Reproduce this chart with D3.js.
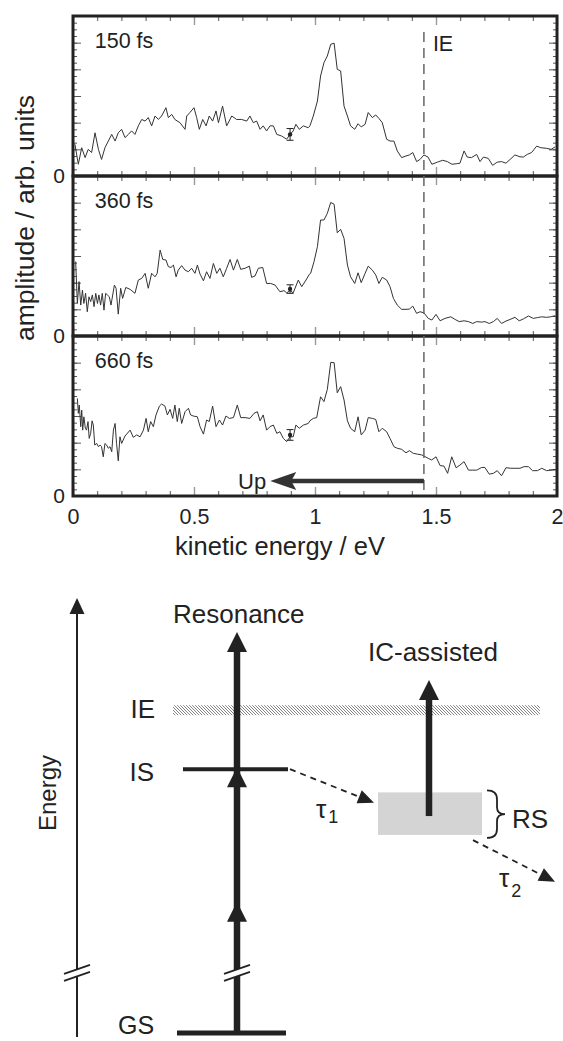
<!DOCTYPE html>
<html><head><meta charset="utf-8">
<script src="https://cdn.jsdelivr.net/npm/d3@7"></script>
<style>body{margin:0;background:#fff}svg{display:block;font-family:"Liberation Sans",Arial,Helvetica,sans-serif}</style>
</head><body><svg id="c" width="563" height="1041"></svg>
<script>
// ---------- DATA ----------
const panelLabels = ["150 fs", "360 fs", "660 fs"];
const xTicks = [0, 0.5, 1, 1.5, 2];
const xTickLabels = ["0", "0.5", "1", "1.5", "2"];
const xMinorTicks = d3.range(0, 2.001, 0.1);
const yMajorTicks = [0, 1, 2, 3, 4, 5, 6];
const yMinorTicks = d3.range(0, 6.001, 0.25);
const ieEnergy = 1.45;
const errE = 0.897;
const errMid = [1.56, 1.76, 2.29];
const errHalf = [0.22, 0.16, 0.2];
const upArrow = {from: 1.45, to: 0.815, level: 0.56};

const spec150 = [[0.008,1.19],[0.022,0.44],[0.036,1.06],[0.050,0.69],[0.063,1.0],[0.077,0.88],[0.091,1.62],[0.105,1.0],[0.118,0.62],[0.132,1.06],
[0.146,1.31],[0.160,1.56],[0.174,1.31],[0.187,1.62],[0.201,1.75],[0.215,1.44],[0.229,1.56],[0.242,1.69],[0.256,1.56],[0.270,1.88],
[0.284,2.12],[0.298,2.06],[0.311,2.19],[0.325,1.88],[0.339,2.25],[0.353,2.12],[0.366,2.25],[0.384,2.56],[0.394,2.19],[0.408,2.31],
[0.421,2.12],[0.442,2.0],[0.463,1.75],[0.470,2.25],[0.483,2.38],[0.500,2.56],[0.511,2.19],[0.522,1.75],[0.536,2.12],[0.550,1.88],
[0.563,2.25],[0.577,2.06],[0.591,2.44],[0.601,2.0],[0.618,2.62],[0.635,1.88],[0.656,2.25],[0.676,2.12],[0.697,2.12],[0.718,2.06],
[0.731,2.25],[0.745,2.0],[0.759,2.06],[0.773,1.75],[0.786,1.88],[0.800,1.69],[0.814,1.88],[0.828,1.88],[0.842,1.56],[0.862,1.5],
[0.883,1.38],[0.897,1.56],[0.910,1.69],[0.921,1.94],[0.935,1.75],[0.952,1.88],[0.972,1.81],
[0.979,1.88],[0.993,2.25],[1.010,2.81],[1.023,3.75],[1.037,4.25],[1.051,4.5],[1.065,4.94],[1.079,4.98],[1.092,4.0],[1.106,3.94],
[1.120,2.62],[1.134,2.25],[1.147,1.88],[1.164,1.75],[1.178,1.96],[1.191,1.84],[1.207,1.94],[1.220,2.38],[1.237,2.19],[1.251,2.29],
[1.264,2.16],[1.278,2.0],[1.296,1.38],[1.310,1.31],[1.326,1.31],[1.340,0.94],[1.358,0.69],[1.376,0.75],[1.390,0.79],[1.404,0.88],
[1.420,0.54],[1.434,0.62],[1.450,0.79],[1.467,0.71],[1.483,0.44],[1.506,0.52],[1.528,0.59],[1.547,0.54],[1.566,0.44],[1.585,0.46],
[1.599,0.48],[1.616,0.94],[1.629,0.71],[1.647,0.69],[1.668,0.81],[1.682,0.54],[1.696,0.71],[1.716,0.66],[1.734,0.4],[1.753,0.52],
[1.771,0.54],[1.789,0.48],[1.806,0.62],[1.826,0.79],[1.847,0.72],[1.861,0.71],[1.877,0.81],[1.895,0.88],[1.916,1.12],[1.933,1.06],
[1.956,1.04],[1.976,1.0],[1.992,1.09]];

const spec360 = [[0.011,2.79],[0.018,1.22],[0.025,2.04],[0.032,1.16],[0.039,1.72],[0.045,1.22],[0.052,1.6],[0.059,0.91],[0.066,1.47],[0.073,1.29],
[0.080,1.54],[0.087,1.1],[0.094,1.6],[0.101,1.22],[0.107,1.54],[0.114,1.16],[0.121,1.6],[0.128,0.97],[0.135,1.6],[0.142,1.54],
[0.150,1.47],[0.157,1.16],[0.171,1.91],[0.178,1.79],[0.187,0.82],[0.197,1.79],[0.205,1.41],[0.218,1.82],[0.236,1.75],[0.256,1.6],
[0.270,2.1],[0.284,2.16],[0.298,2.35],[0.311,1.79],[0.325,2.35],[0.339,2.22],[0.348,2.35],[0.360,3.22],[0.371,2.87],[0.384,2.85],
[0.394,2.6],[0.405,2.57],[0.415,2.66],[0.426,2.22],[0.435,2.47],[0.449,2.64],[0.463,2.47],[0.477,2.41],[0.490,2.54],[0.504,2.35],
[0.514,2.66],[0.525,2.32],[0.539,2.07],[0.552,2.41],[0.566,2.16],[0.580,2.72],[0.594,2.35],[0.607,2.54],[0.621,2.22],[0.635,2.54],
[0.649,2.87],[0.663,2.47],[0.679,2.87],[0.693,2.5],[0.711,2.54],[0.729,2.62],[0.738,2.2],[0.752,2.25],[0.766,2.54],[0.784,2.57],
[0.800,1.97],[0.817,1.97],[0.835,1.91],[0.855,1.66],[0.872,1.7],[0.883,1.62],[0.897,1.7],[0.910,1.62],[0.931,2.1],[0.945,1.85],
[0.963,2.1],[0.977,2.32],
[0.982,2.35],[0.996,2.79],[1.010,3.35],[1.023,4.35],[1.037,4.35],[1.051,4.6],[1.065,5.01],[1.079,4.94],[1.092,3.87],[1.106,4.0],
[1.120,3.66],[1.134,2.66],[1.147,2.22],[1.164,1.97],[1.178,2.37],[1.191,2.0],[1.207,2.35],[1.220,2.62],[1.237,2.47],[1.251,2.29],
[1.264,1.97],[1.278,2.2],[1.296,2.1],[1.310,1.85],[1.324,1.41],[1.340,1.16],[1.358,1.0],[1.376,1.0],[1.390,1.01],[1.404,1.12],
[1.420,0.85],[1.434,0.91],[1.450,0.87],[1.468,0.66],[1.483,0.6],[1.500,0.81],[1.517,0.57],[1.537,0.66],[1.561,0.72],[1.579,0.62],
[1.596,0.54],[1.616,0.57],[1.634,0.54],[1.652,0.47],[1.668,0.54],[1.689,0.52],[1.702,0.54],[1.720,0.47],[1.737,0.54],[1.753,0.66],
[1.771,0.47],[1.789,0.56],[1.806,0.62],[1.826,0.7],[1.844,0.57],[1.861,0.64],[1.882,0.75],[1.902,0.66],[1.919,0.69],[1.937,0.72],
[1.957,0.7],[1.974,0.72],[1.992,0.76]];

const spec660 = [[0.018,3.66],[0.022,3.1],[0.026,3.41],[0.032,2.6],[0.036,3.22],[0.040,2.47],[0.045,2.97],[0.051,2.54],[0.056,2.47],[0.062,2.79],
[0.067,2.16],[0.073,2.35],[0.079,2.82],[0.084,2.66],[0.090,1.91],[0.098,1.97],[0.105,1.85],[0.112,1.91],[0.118,1.85],[0.125,1.47],
[0.132,1.97],[0.139,1.91],[0.146,1.79],[0.153,1.85],[0.160,1.66],[0.167,2.47],[0.174,2.72],[0.180,1.97],[0.187,1.32],[0.194,2.22],
[0.201,1.97],[0.215,2.25],[0.236,2.47],[0.249,2.2],[0.263,2.29],[0.277,2.22],[0.291,2.47],[0.302,2.91],[0.311,2.41],[0.321,2.79],
[0.332,2.6],[0.343,3.04],[0.357,3.37],[0.366,3.45],[0.380,3.37],[0.390,3.04],[0.401,3.25],[0.412,2.91],[0.421,3.41],[0.431,2.79],
[0.439,3.29],[0.449,2.72],[0.463,3.16],[0.477,3.29],[0.486,3.04],[0.497,3.0],[0.514,2.97],[0.525,2.6],[0.539,2.32],[0.552,2.85],
[0.563,2.79],[0.577,3.37],[0.591,2.6],[0.605,2.85],[0.618,2.66],[0.632,3.0],[0.646,2.91],[0.663,2.94],[0.679,3.41],[0.693,2.94],
[0.711,2.94],[0.731,2.91],[0.748,3.1],[0.762,3.16],[0.773,2.82],[0.786,3.04],[0.800,2.47],[0.814,2.6],[0.828,2.66],[0.842,2.35],
[0.855,2.41],[0.869,2.16],[0.883,2.04],[0.897,2.22],[0.910,2.22],[0.921,2.66],[0.935,2.54],[0.952,2.66],[0.972,2.72],
[0.979,2.82],[0.993,2.91],[1.007,2.94],[1.023,3.72],[1.037,3.54],[1.051,4.0],[1.065,5.01],[1.079,5.0],[1.092,3.87],[1.106,4.1],
[1.120,3.6],[1.134,2.82],[1.147,2.54],[1.164,2.41],[1.178,2.97],[1.191,2.29],[1.207,2.47],[1.220,2.94],[1.237,2.91],[1.251,2.87],
[1.264,2.41],[1.278,2.54],[1.296,2.41],[1.310,2.16],[1.326,1.85],[1.340,1.79],[1.358,1.75],[1.376,1.62],[1.390,1.7],[1.406,1.6],
[1.423,1.57],[1.441,1.54],[1.450,1.5],[1.468,1.41],[1.482,1.35],[1.500,1.47],[1.517,1.14],[1.533,1.12],[1.548,0.85],[1.565,1.47],
[1.583,1.06],[1.599,1.16],[1.616,1.29],[1.634,0.97],[1.652,0.97],[1.668,0.97],[1.689,1.07],[1.702,1.07],[1.720,0.82],[1.737,0.85],
[1.753,0.95],[1.771,0.76],[1.789,1.06],[1.809,1.04],[1.826,1.04],[1.847,1.04],[1.864,1.1],[1.882,1.1],[1.899,0.95],[1.919,0.95],
[1.937,1.04],[1.957,0.95],[1.976,0.97],[1.992,1.0]];

const spectra = [spec150, spec360, spec660];

// Energy-level diagram (schematic, arbitrary energy units)
const levelNames = ["GS", "IS", "IE"];
const levelE = [0, 6.58, 8.05];
const ieBandHalf = 0.125;
const rsRange = [4.94, 6.0];
const resonanceTop = 10;
const resonanceHeads = [10, 6.63, 3.27];
const icArrow = [5.41, 8.8];
const breakE = 1.6;
const tau1 = [6.58, 5.74];
const tau2 = [4.81, 3.77];

// ---------- DRAW ----------
const svg = d3.select("#c");
const ink = "#222";
const x = d3.scaleLinear([0, 2], [73, 557]);
const panelTops = [16, 176, 336], panelH = 160;
const ys = panelTops.map(t => d3.scaleLinear([0, 6], [t + panelH, t]));

ys.forEach((y, i) => {
  const g = svg.append("g");
  const top = y.range()[1], bot = y.range()[0];
  const mk = (axis, tx, ty) => {
    const a = g.append("g").attr("transform", `translate(${tx},${ty})`).call(axis);
    a.select(".domain").remove();
    return a;
  };
  const tickStyle = (sel, col, w) => sel.selectAll("line").attr("stroke", col).attr("stroke-width", w);
  tickStyle(mk(d3.axisBottom(x).tickValues(xMinorTicks).tickSize(-5).tickFormat(""), 0, bot), "#555", 1);
  tickStyle(mk(d3.axisBottom(x).tickValues(xTicks).tickSize(-9).tickFormat(""), 0, bot), "#999", 1.4);
  tickStyle(mk(d3.axisTop(x).tickValues(xMinorTicks).tickSize(-5).tickFormat(""), 0, top), "#555", 1);
  tickStyle(mk(d3.axisTop(x).tickValues(xTicks).tickSize(-9).tickFormat(""), 0, top), "#999", 1.4);
  tickStyle(mk(d3.axisLeft(y).tickValues(yMinorTicks).tickSize(-4).tickFormat(""), 73, 0), "#555", 1);
  tickStyle(mk(d3.axisLeft(y).tickValues(yMajorTicks).tickSize(-8).tickFormat(""), 73, 0), "#555", 1);
  tickStyle(mk(d3.axisRight(y).tickValues(yMinorTicks).tickSize(-4).tickFormat(""), 557, 0), "#555", 1);
  tickStyle(mk(d3.axisRight(y).tickValues(yMajorTicks).tickSize(-8).tickFormat(""), 557, 0), "#555", 1);
  const z = mk(d3.axisLeft(y).tickValues([0]).tickSize(0).tickPadding(8).tickFormat(() => "0"), 73, 0);
  z.selectAll("text").attr("font-size", 21).attr("fill", ink).attr("font-family", null);
  g.append("path").datum(spectra[i]).attr("fill", "none").attr("stroke", "#333").attr("stroke-width", 1)
    .attr("stroke-linejoin", "round")
    .attr("d", d3.line().x(d => x(d[0])).y(d => y(d[1])));
  const eb = g.append("g").attr("stroke", ink).attr("stroke-width", 1);
  eb.append("line").attr("x1", x(errE)).attr("x2", x(errE)).attr("y1", y(errMid[i] - errHalf[i])).attr("y2", y(errMid[i] + errHalf[i]));
  [-1, 1].forEach(s => eb.append("line").attr("x1", x(errE) - 3.5).attr("x2", x(errE) + 3.5)
    .attr("y1", y(errMid[i] + s * errHalf[i])).attr("y2", y(errMid[i] + s * errHalf[i])));
  g.append("circle").attr("cx", x(errE)).attr("cy", y(errMid[i])).attr("r", 2.2).attr("fill", ink);
  g.append("text").attr("x", x(0.09)).attr("y", top + 32).attr("font-size", 21.5).attr("fill", ink).text(panelLabels[i]);
  g.append("rect").attr("x", 73).attr("y", top).attr("width", 484).attr("height", panelH)
    .attr("fill", "none").attr("stroke", ink).attr("stroke-width", 3);
});

// IE dashed line
svg.append("line").attr("x1", x(ieEnergy)).attr("x2", x(ieEnergy))
  .attr("y1", ys[0](5.4)).attr("y2", ys[2](0)).attr("stroke", "#666").attr("stroke-width", 1.5)
  .attr("stroke-dasharray", "10,6");
svg.append("text").attr("x", x(ieEnergy) + 9).attr("y", ys[0](4.7)).attr("font-size", 21.5).attr("fill", ink).text("IE");

// Up arrow
const yUp = ys[2](upArrow.level);
svg.append("line").attr("x1", x(upArrow.from)).attr("x2", x(upArrow.to) + 20).attr("y1", yUp).attr("y2", yUp)
  .attr("stroke", "#333").attr("stroke-width", 4.5);
svg.append("path").attr("fill", "#333")
  .attr("d", `M${x(upArrow.to)},${yUp}L${x(upArrow.to) + 26},${yUp - 9}L${x(upArrow.to) + 21},${yUp}L${x(upArrow.to) + 26},${yUp + 9}Z`);
svg.append("text").attr("x", x(upArrow.to) - 4).attr("y", yUp + 8).attr("text-anchor", "end")
  .attr("font-size", 22).attr("fill", ink).text("Up");

// x tick labels
const xa = svg.append("g").attr("transform", `translate(0,${ys[2](0)})`)
  .call(d3.axisBottom(x).tickValues(xTicks).tickSize(0).tickPadding(13).tickFormat((d, i) => xTickLabels[i]));
xa.select(".domain").remove();
xa.selectAll("text").attr("font-size", 21.5).attr("fill", ink).attr("font-family", null);

// axis titles
svg.append("text").attr("x", 280).attr("y", 555).attr("text-anchor", "middle").attr("font-size", 25.5)
  .attr("fill", ink).text("kinetic energy / eV");
svg.append("text").attr("transform", "translate(34,218) rotate(-90)").attr("text-anchor", "middle")
  .attr("font-size", 26.5).attr("fill", ink).text("amplitude / arb. units");

// ---------- Energy diagram ----------
const eY = d3.scaleLinear([0, 10], [1033, 632]);
const D = svg.append("g");
const defs = svg.append("defs");
const pat = defs.append("pattern").attr("id", "hatch").attr("patternUnits", "userSpaceOnUse")
  .attr("width", 3).attr("height", 3);
pat.append("path").attr("d", "M0,0L3,3M-1,2L1,4M2,-1L4,1").attr("stroke", "#777").attr("stroke-width", 0.9);

function tri(tx, ty, ang, len, w) {
  const bx = tx - len * Math.cos(ang), by = ty - len * Math.sin(ang);
  const px = -Math.sin(ang) * w / 2, py = Math.cos(ang) * w / 2;
  const p = d3.path();
  p.moveTo(tx, ty); p.lineTo(bx + px, by + py); p.lineTo(bx - px, by - py); p.closePath();
  return p.toString();
}
const UP = -Math.PI / 2;

// Energy axis
const axX = 77;
D.append("line").attr("x1", axX).attr("x2", axX).attr("y1", eY(10.48)).attr("y2", eY(-0.1))
  .attr("stroke", ink).attr("stroke-width", 2);
D.append("path").attr("d", tri(axX, eY(10.85), UP, 16, 15)).attr("fill", ink);
function breakMark(cx, halfW) {
  const yb = eY(breakE);
  D.append("path").attr("d", `M${cx - halfW},${yb + 5}L${cx + halfW},${yb - 4}L${cx + halfW},${yb + 3}L${cx - halfW},${yb + 12}Z`).attr("fill", "#fff");
  D.append("path").attr("d", `M${cx - halfW},${yb + 5}L${cx + halfW},${yb - 4}M${cx - halfW},${yb + 12}L${cx + halfW},${yb + 3}`)
    .attr("stroke", ink).attr("stroke-width", 1.8);
}
breakMark(axX, 13);
D.append("text").attr("transform", `translate(56,793) rotate(-90)`).attr("text-anchor", "middle")
  .attr("font-size", 24).attr("fill", ink).text("Energy");

// IE band
D.append("rect").attr("x", 173).attr("width", 367).attr("y", eY(levelE[2] + ieBandHalf))
  .attr("height", eY(levelE[2] - ieBandHalf) - eY(levelE[2] + ieBandHalf)).attr("fill", "url(#hatch)");

// RS box
D.append("rect").attr("x", 378).attr("width", 104).attr("y", eY(rsRange[1]))
  .attr("height", eY(rsRange[0]) - eY(rsRange[1])).attr("fill", "#d4d4d4");

// levels
D.append("line").attr("x1", 177).attr("x2", 286).attr("y1", eY(levelE[0])).attr("y2", eY(levelE[0]))
  .attr("stroke", ink).attr("stroke-width", 5);
D.append("line").attr("x1", 183).attr("x2", 288).attr("y1", eY(levelE[1])).attr("y2", eY(levelE[1]))
  .attr("stroke", ink).attr("stroke-width", 4);

// Resonance arrow
const rX = 237;
D.append("line").attr("x1", rX).attr("x2", rX).attr("y1", eY(levelE[0])).attr("y2", eY(resonanceTop) + 16)
  .attr("stroke", ink).attr("stroke-width", 6.5);
resonanceHeads.forEach(h => D.append("path").attr("d", tri(rX, eY(h), UP, 20, 20)).attr("fill", ink));
breakMark(rX, 13);

// IC-assisted arrow
const icX = 429;
D.append("line").attr("x1", icX).attr("x2", icX).attr("y1", eY(icArrow[0])).attr("y2", eY(icArrow[1]) + 16)
  .attr("stroke", ink).attr("stroke-width", 6.5);
D.append("path").attr("d", tri(icX, eY(icArrow[1]), UP, 20, 20)).attr("fill", ink);

// dashed arrows
function dashedArrow(x1, y1, x2, y2) {
  const ang = Math.atan2(y2 - y1, x2 - x1);
  D.append("line").attr("x1", x1).attr("y1", y1).attr("x2", x2 - 12 * Math.cos(ang)).attr("y2", y2 - 12 * Math.sin(ang))
    .attr("stroke", ink).attr("stroke-width", 1.8).attr("stroke-dasharray", "6,5");
  D.append("path").attr("d", tri(x2, y2, ang, 16, 14)).attr("fill", ink);
}
dashedArrow(290, eY(tau1[0]), 374, eY(tau1[1]));
dashedArrow(473, eY(tau2[0]), 555, eY(tau2[1]));

// brace
const b0 = eY(rsRange[1]) - 2, b1 = eY(rsRange[0]) + 3, bm = (b0 + b1) / 2;
D.append("path").attr("fill", "none").attr("stroke", ink).attr("stroke-width", 1.8)
  .attr("d", `M487,${b0}Q497,${b0} 497,${b0 + 9}L497,${bm - 7}Q497,${bm} 505,${bm}Q497,${bm} 497,${bm + 7}L497,${b1 - 9}Q497,${b1} 487,${b1}`);

// labels
const lab = (t, x0, y0, size, anchor) => D.append("text").attr("x", x0).attr("y", y0).attr("font-size", size)
  .attr("text-anchor", anchor || "start").attr("fill", ink).text(t);
lab("Resonance", 173, 623, 26);
lab("IC-assisted", 368, 661, 26);
lab(levelNames[2], 155, eY(levelE[2]) + 8, 26, "end");
lab(levelNames[1], 154, eY(levelE[1]) + 12, 26, "end");
lab(levelNames[0], 118, 1034, 25);
lab("RS", 512, 828, 26);
const t1 = D.append("text").attr("x", 316).attr("y", 818).attr("font-size", 26).attr("fill", ink);
t1.append("tspan").text("τ");
t1.append("tspan").attr("dy", 5).attr("dx", 2).attr("font-size", 18).text("1");
const t2 = D.append("text").attr("x", 499).attr("y", 887).attr("font-size", 26).attr("fill", ink);
t2.append("tspan").text("τ");
t2.append("tspan").attr("dy", 10).attr("dx", 2).attr("font-size", 18).text("2");
</script></body></html>
